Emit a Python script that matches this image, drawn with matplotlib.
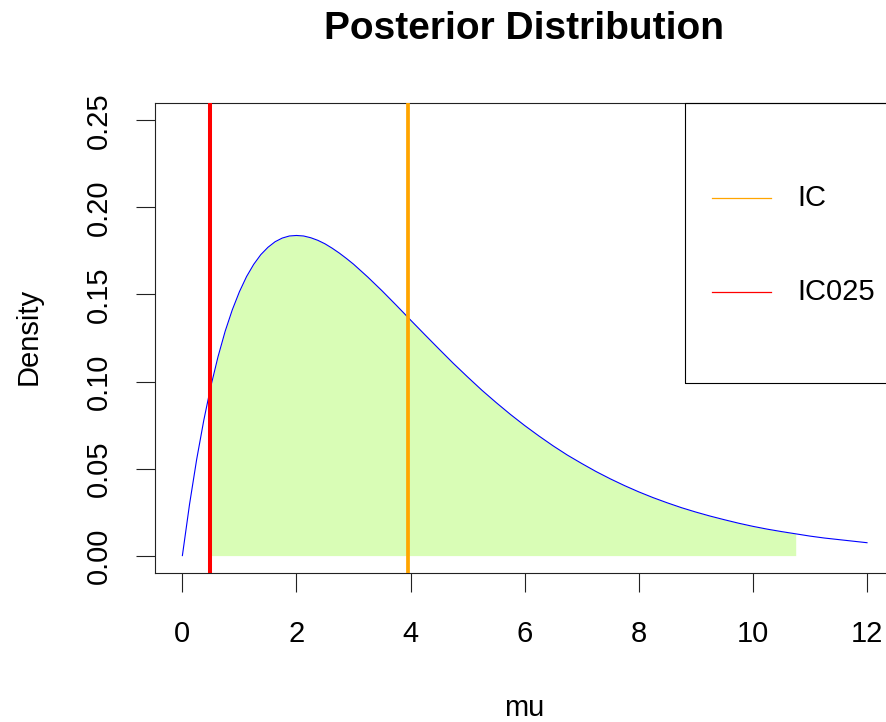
import matplotlib
matplotlib.use("Agg")
import matplotlib.pyplot as plt
from matplotlib.patches import Rectangle
import numpy as np

plt.rcParams['font.family'] = ['Liberation Sans', 'DejaVu Sans']

# Posterior density of mu: finer grid over the steep rise and peak,
# coarser grid along the tail
mu = np.concatenate([np.arange(0, 3.0001, 0.125), np.arange(3.25, 12.0001, 0.25)])
density = [
    # 0 .. 3 (step 0.125)
    0.0000, 0.0294, 0.0552, 0.0777, 0.0974, 0.1143, 0.1289, 0.1412,
    0.1516, 0.1603, 0.1673, 0.1729, 0.1771, 0.1803, 0.1824, 0.1836,
    0.1839, 0.1836, 0.1826, 0.1811, 0.1791, 0.1766, 0.1738, 0.1707,
    0.1674,
    # 3.25 .. 12 (step 0.25)
    0.1600, 0.1521, 0.1438,
    0.1353, 0.1269, 0.1186, 0.1104, 0.1026, 0.0950, 0.0879, 0.0811,
    0.0747, 0.0687, 0.0630, 0.0577, 0.0529, 0.0483, 0.0441, 0.0402,
    0.0366, 0.0333, 0.0303, 0.0275, 0.0250, 0.0227, 0.0206, 0.0186,
    0.0168, 0.0152, 0.0138, 0.0125, 0.0112, 0.0101, 0.0092, 0.0083,
    0.0074,
]

# Interval bounds and shaded region
ic025 = 0.49
ic = 3.95
shade_lo, shade_hi = 0.5, 10.75

x_ticks = [0, 2, 4, 6, 8, 10, 12]
y_ticks = [0.00, 0.05, 0.10, 0.15, 0.20, 0.25]
legend_labels = ["IC", "IC025"]
legend_colors = ["orange", "red"]

W, H = 887, 722
fig = plt.figure(figsize=(W / 100, H / 100), dpi=100)
left, right, top, bottom = 155, 894.4, 103, 573
ax = fig.add_axes([left / W, 1 - bottom / H, (right - left) / W, (bottom - top) / H])

dens = np.asarray(density)
mask = (mu >= shade_lo - 1e-9) & (mu <= shade_hi + 1e-9)
ax.fill_between(mu[mask], 0, dens[mask], color="#d9fdb6", linewidth=0, zorder=1)
ax.plot(mu, dens, color="blue", lw=0.8, zorder=2)
ax.axvline(ic025, color="red", lw=2.9, zorder=3)
ax.axvline(ic, color="orange", lw=2.7, zorder=3)

ax.set_xlim(-0.48, 12.48)
ax.set_ylim(-0.01, 0.26)
ax.set_xticks(x_ticks)
ax.set_xticklabels([str(t) for t in x_ticks])
ax.set_yticks(y_ticks)
ax.set_yticklabels([f"{t:.2f}" for t in y_ticks])

for s in ax.spines.values():
    s.set_linewidth(0.8)
    s.set_color("#222222")

ax.tick_params(axis="both", direction="out", length=14, width=0.8,
               color="#222222", labelsize=21)
ax.tick_params(axis="x", pad=20)
ax.tick_params(axis="y", pad=16, labelrotation=90)
for lbl in ax.get_yticklabels():
    lbl.set_verticalalignment("center")

# Legend box anchored at the top-right of the plot region
leg_x0, leg_y0 = 8.81, 0.0991
ax.add_patch(Rectangle((leg_x0, leg_y0), 12.48 - leg_x0, 0.26 - leg_y0,
                       fill=False, edgecolor="black", lw=0.8, zorder=4,
                       clip_on=False))
leg_rows = [0.2056, 0.1515]
for lab, col, yy in zip(legend_labels, legend_colors, leg_rows):
    ax.plot([9.29, 10.31], [yy, yy], color=col, lw=0.9, zorder=5)
    ax.text(10.785, yy, lab, fontsize=21, va="center", ha="left", zorder=5)

fig.text(524.5 / W, 1 - 39 / H, "Posterior Distribution", fontsize=28,
         fontweight="bold", ha="center", va="baseline")
fig.text(524.5 / W, 1 - 716 / H, "mu", fontsize=21, ha="center", va="baseline")
fig.text(37 / W, 1 - 336 / H, "Density", fontsize=21, rotation=90,
         rotation_mode="anchor", ha="center", va="baseline")

fig.savefig("out.png", dpi=100)
